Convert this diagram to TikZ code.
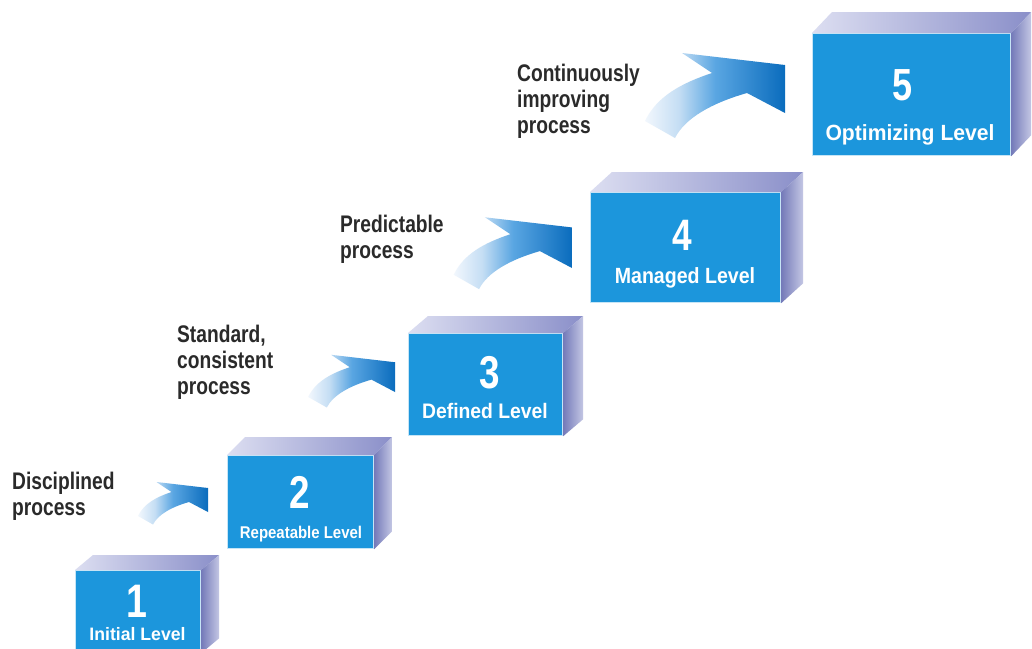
\documentclass[tikz,border=0pt]{standalone}
\usepackage{fontspec}
\setmainfont{Liberation Sans}
\usetikzlibrary{calc}
\definecolor{boxblue}{RGB}{28,150,220}
\definecolor{topL}{HTML}{DCDEF1}
\definecolor{topR}{HTML}{8A8FC9}
\definecolor{sideL}{HTML}{747AB9}
\definecolor{sideR}{HTML}{C4C7E4}
\definecolor{procgray}{HTML}{2A2A2A}
\definecolor{aL}{HTML}{F2F7FD}
\definecolor{aTwo}{HTML}{C5DEF4}
\definecolor{aThree}{HTML}{5AA6E2}
\definecolor{aR}{HTML}{0A6CBD}
\pgfdeclarehorizontalshading{arrowshade}{100bp}{color(0bp)=(aL); color(25bp)=(aL); color(37bp)=(aTwo); color(50bp)=(aThree); color(75bp)=(aR); color(100bp)=(aR)}
\tikzset{
  front/.style={rectangle, fill=boxblue, draw=white!75!boxblue, line width=1.2pt, inner sep=0pt, anchor=north west},
  topface/.style={left color=topL, right color=topR},
  sideface/.style={left color=sideL, right color=sideR},
  numtxt/.style={text=white, anchor=base, inner sep=0pt, xscale=0.8},
  lbltxt/.style={text=white, anchor=base, inner sep=0pt},
  proc/.style={text=procgray, font=\fontsize{24}{26}\selectfont\bfseries, xscale=0.8, anchor=base west, inner sep=0pt},
  pics/lvlarrow/.style={code={
    \shade[shading=arrowshade, scale=#1] (-103,-60) -- (0,-48) -- (0,0) -- (-38,-20)
      .. controls (-73,-10) and (-100,5) .. (-110,25) -- (-140,8)
      .. controls (-128,-17) and (-103,-30) .. (-73,-40) -- cycle;
  }}
}
\begin{document}
\begin{tikzpicture}[x=1pt,y=-1pt]
\useasboundingbox (0,0) rectangle (1032,648);
\fill[white] (0,0) rectangle (1032,648);
\clip (0,0) rectangle (1032,648);

% ---- boxes ----
\node[front, minimum width=125pt, minimum height=82pt] (b1) at (75,570) {};
\shade[topface] (b1.north west) -- ++(18,-15) -- ($(b1.north east)+(18,-15)$) -- (b1.north east) -- cycle;
\shade[sideface] (b1.north east) -- ++(18,-15) -- ($(b1.south east)+(18,-15)$) -- (b1.south east) -- cycle;

\node[front, minimum width=146pt, minimum height=93pt] (b2) at (227,455) {};
\shade[topface] (b2.north west) -- ++(18,-18) -- ($(b2.north east)+(18,-18)$) -- (b2.north east) -- cycle;
\shade[sideface] (b2.north east) -- ++(18,-18) -- ($(b2.south east)+(18,-18)$) -- (b2.south east) -- cycle;

\node[front, minimum width=154pt, minimum height=102pt] (b3) at (408,333) {};
\shade[topface] (b3.north west) -- ++(20,-17) -- ($(b3.north east)+(20,-17)$) -- (b3.north east) -- cycle;
\shade[sideface] (b3.north east) -- ++(20,-17) -- ($(b3.south east)+(20,-17)$) -- (b3.south east) -- cycle;

\node[front, minimum width=190pt, minimum height=110pt] (b4) at (590,192) {};
\shade[topface] (b4.north west) -- ++(22,-20) -- ($(b4.north east)+(22,-20)$) -- (b4.north east) -- cycle;
\shade[sideface] (b4.north east) -- ++(22,-20) -- ($(b4.south east)+(22,-20)$) -- (b4.south east) -- cycle;

\node[front, minimum width=198pt, minimum height=122pt] (b5) at (812,33) {};
\shade[topface] (b5.north west) -- ++(20,-21) -- ($(b5.north east)+(20,-21)$) -- (b5.north east) -- cycle;
\shade[sideface] (b5.north east) -- ++(20,-21) -- ($(b5.south east)+(20,-21)$) -- (b5.south east) -- cycle;

% ---- numbers ----
\node[numtxt, font=\fontsize{47}{47}\selectfont\bfseries] (n1) at (137,617) {1};
\node[numtxt, font=\fontsize{46}{46}\selectfont\bfseries] (n2) at (300,508) {2};
\node[numtxt, font=\fontsize{46}{46}\selectfont\bfseries] (n3) at (490,388) {3};
\node[numtxt, font=\fontsize{44}{44}\selectfont\bfseries] (n4) at (682,250) {4};
\node[numtxt, font=\fontsize{45}{45}\selectfont\bfseries] (n5) at (902,100) {5};

% ---- level labels ----
\node[lbltxt, font=\fontsize{18}{18}\selectfont\bfseries, xscale=0.98] (l1) at (137.5,640) {Initial Level};
\node[lbltxt, font=\fontsize{17}{17}\selectfont\bfseries, xscale=0.88] (l2) at (301,538) {Repeatable Level};
\node[lbltxt, font=\fontsize{21}{21}\selectfont\bfseries, xscale=0.92] (l3) at (485,418) {Defined Level};
\node[lbltxt, font=\fontsize{22}{22}\selectfont\bfseries, xscale=0.89] (l4) at (685,283) {Managed Level};
\node[lbltxt, font=\fontsize{22}{22}\selectfont\bfseries, xscale=0.96] (l5) at (910,140) {Optimizing Level};

% ---- arrows ----
\pic (a2) at (208,512) {lvlarrow=0.5};
\pic (a3) at (395,392) {lvlarrow=0.62};
\pic (a4) at (572,268) {lvlarrow=0.845};
\pic (a5) at (785,113) {lvlarrow=1};

% ---- process texts ----
\node[proc] (p1a) at (12,489) {Disciplined};
\node[proc] (p1b) at (12,515) {process};
\node[proc] (p2a) at (177,342) {Standard,};
\node[proc] (p2b) at (177,368) {consistent};
\node[proc] (p2c) at (177,394) {process};
\node[proc] (p3a) at (340,232) {Predictable};
\node[proc] (p3b) at (340,258) {process};
\node[proc] (p4a) at (517,81) {Continuously};
\node[proc] (p4b) at (517,107) {improving};
\node[proc] (p4c) at (517,133) {process};
\end{tikzpicture}
\end{document}
